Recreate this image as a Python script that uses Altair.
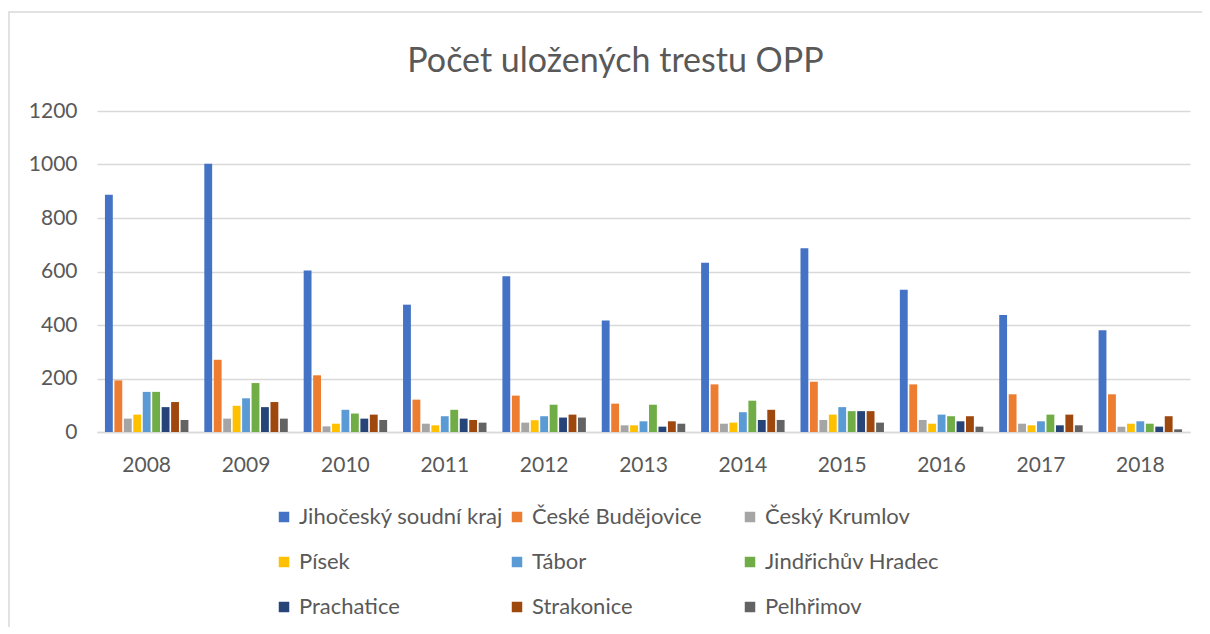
import altair as alt
import pandas as pd

years = ["2008", "2009", "2010", "2011", "2012", "2013", "2014", "2015", "2016", "2017", "2018"]
series = ["Jihočeský soudní kraj", "České Budějovice", "Český Krumlov", "Písek", "Tábor",
          "Jindřichův Hradec", "Prachatice", "Strakonice", "Pelhřimov"]
colors = ["#4472C4", "#ED7D31", "#A5A5A5", "#FFC000", "#5B9BD5", "#70AD47", "#264478", "#9E480E", "#636363"]
chart_title = ["Počet uložených trestu OPP"]

jihocesky = [887, 1003, 604, 476, 582, 417, 633, 687, 532, 437, 380]
ceske_budejovice = [193, 270, 212, 121, 136, 106, 178, 188, 178, 141, 141]
cesky_krumlov = [50, 50, 21, 31, 35, 25, 31, 45, 45, 31, 20]
pisek = [65, 98, 31, 25, 44, 25, 35, 65, 31, 25, 31]
tabor = [150, 126, 83, 59, 59, 40, 74, 93, 65, 40, 40]
jindrichuv_hradec = [150, 183, 69, 83, 102, 102, 117, 78, 59, 65, 31]
prachatice = [93, 93, 50, 50, 54, 20, 45, 78, 40, 25, 20]
strakonice = [112, 112, 65, 45, 65, 40, 83, 78, 59, 65, 59]
pelhrimov = [45, 50, 45, 35, 54, 31, 45, 35, 20, 25, 10]

values = [jihocesky, ceske_budejovice, cesky_krumlov, pisek, tabor,
          jindrichuv_hradec, prachatice, strakonice, pelhrimov]

rows = []
for s, vals in zip(series, values):
    for y, v in zip(years, vals):
        rows.append({"rok": y, "serie": s, "hodnota": v})
df = pd.DataFrame(rows)

FONT = "Lato"
TXT = "#595959"
W, H = 1093, 321

bars = alt.Chart(df).mark_bar().encode(
    x=alt.X("rok:N", sort=years, title=None,
            scale=alt.Scale(paddingInner=0.16, paddingOuter=0.08),
            axis=alt.Axis(labelAngle=0, ticks=False, domain=True, domainColor="#d9d9d9",
                          domainWidth=1.5, labelPadding=22, labelFontSize=21,
                          labelColor=TXT, labelFont=FONT, grid=False)),
    xOffset=alt.XOffset("serie:N", sort=series, scale=alt.Scale(paddingInner=0.17)),
    y=alt.Y("hodnota:Q", title=None,
            scale=alt.Scale(domain=[0, 1200]),
            axis=alt.Axis(values=[0, 200, 400, 600, 800, 1000, 1200], format="d",
                          ticks=False, domain=False,
                          labelPadding=20, labelFontSize=21, labelColor=TXT, labelFont=FONT,
                          gridColor="#d9d9d9", gridWidth=1.5)),
    color=alt.Color("serie:N", sort=series, scale=alt.Scale(domain=series, range=colors),
                    legend=alt.Legend(title=None, orient="none", legendX=176, legendY=395,
                                      direction="horizontal",
                                      columns=3, gridAlign="all", columnPadding=3,
                                      rowPadding=23, symbolType="square", symbolSize=110,
                                      symbolStrokeWidth=0, labelFontSize=22, labelColor=TXT,
                                      labelFont=FONT, labelLimit=400, labelOffset=4)),
)

border = alt.Chart(pd.DataFrame({"b": [0]})).mark_rect(
    fill=None, stroke="#d9d9d9", strokeWidth=1.5
).encode(
    x=alt.value(-88), x2=alt.value(W + 200),
    y=alt.value(-99), y2=alt.value(H + 300),
)

title = alt.Chart(pd.DataFrame({"t": chart_title})).mark_text(
    font=FONT, fontSize=34, color=TXT, align="center", baseline="alphabetic"
).encode(
    text="t:N",
    x=alt.value(W / 2 - 28),
    y=alt.value(-39),
)

chart = alt.layer(border, bars, title).properties(
    width=W, height=H,
    autosize=alt.AutoSizeParams(type="none"),
    padding={"left": 89, "top": 103, "right": 12, "bottom": 195},
).configure_view(stroke=None)

chart.save("out.html", embed_options={"renderer": "svg", "actions": False})
